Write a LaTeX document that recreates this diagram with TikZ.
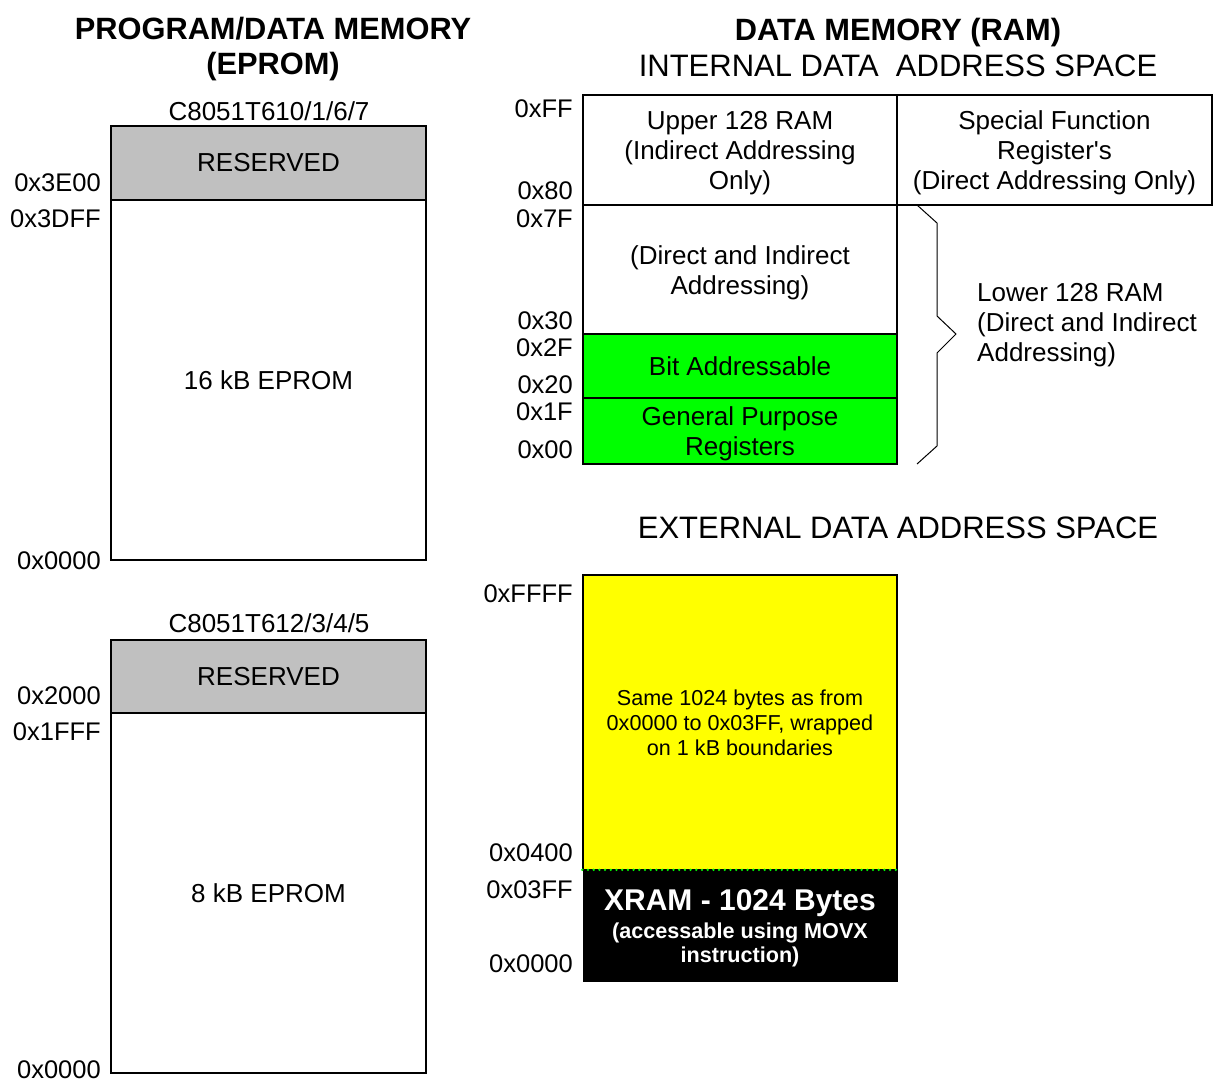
\documentclass[tikz,border=0pt]{standalone}
\usepackage{fontspec}
\setmainfont{Liberation Sans}
\definecolor{resgray}{HTML}{C0C0C0}
\definecolor{bitgreen}{HTML}{00FF00}
\definecolor{xyellow}{HTML}{FFFF00}
\begin{document}
\begin{tikzpicture}[x=1pt,y=-1pt,
  mem/.style={draw, line width=2pt, inner sep=0pt, align=center, font=\fontsize{26}{30}\selectfont},
  mtxt/.style={inner sep=0pt, align=center, font=\fontsize{26}{30}\selectfont, yshift=-3pt},
  addr/.style={font=\fontsize{25.5}{30}\selectfont, inner sep=0pt, anchor=east, text height=18.3pt, text depth=0pt},
  chip/.style={font=\fontsize{26}{30}\selectfont, inner sep=0pt, text height=18.6pt, text depth=0pt},
  head/.style={font=\bfseries\fontsize{30.8}{35}\selectfont, align=center, inner sep=0pt},
  sub/.style={font=\fontsize{31}{35}\selectfont, inner sep=0pt, text height=22.2pt, text depth=0pt},
  xtxt/.style={text=white, font=\bfseries\fontsize{21.6}{25}\selectfont, inner sep=0pt, text height=15.5pt, text depth=0pt}
]
\useasboundingbox (0,0) rectangle (1216,1082);

% ---------- headings ----------
\node[head] (h1) at (273,49.5) {PROGRAM/DATA MEMORY\\(EPROM)};
\node[head, text height=22pt, text depth=0pt] (h2) at (898,29) {DATA MEMORY (RAM)};
\node[sub] (h3) at (898,65) {INTERNAL DATA\ \ ADDRESS SPACE};
\node[sub] (h4) at (898,527) {EXTERNAL DATA ADDRESS SPACE};

% ---------- left: C8051T610/1/6/7 ----------
\node[chip] (c1) at (269,111) {C8051T610/1/6/7};
\node[mem, minimum width=315pt, minimum height=360pt] (ep1) at (268.5,380) {16 kB EPROM};
\node[mem, fill=resgray, minimum width=315pt, minimum height=74pt] (rs1) at (268.5,163) {RESERVED};
\node[addr] (a1) at (101,182) {0x3E00};
\node[addr] (a2) at (101,218) {0x3DFF};
\node[addr] (a3) at (101,560) {0x0000};

% ---------- left: C8051T612/3/4/5 ----------
\node[chip] (c2) at (269,623) {C8051T612/3/4/5};
\node[mem, minimum width=315pt, minimum height=360pt] (ep2) at (268.5,893) {8 kB EPROM};
\node[mem, fill=resgray, minimum width=315pt, minimum height=73pt] (rs2) at (268.5,676.5) {RESERVED};
\node[addr] (a4) at (101,695) {0x2000};
\node[addr] (a5) at (101,731) {0x1FFF};
\node[addr] (a6) at (101,1069) {0x0000};

% ---------- internal data space ----------
\node[mem, minimum width=314pt, minimum height=110pt] (up) at (740,150) {};
\node[mtxt] (upt) at (up.center) {Upper 128 RAM\\(Indirect Addressing\\Only)};
\node[mem, minimum width=315pt, minimum height=110pt] (sfr) at (1054.5,150) {};
\node[mtxt] (sfrt) at (sfr.center) {Special Function\\Register\textquotesingle s\\(Direct Addressing Only)};
\node[mem, minimum width=314pt, minimum height=129pt] (di) at (740,269.5) {};
\node[mtxt] (dit) at (di.center) {(Direct and Indirect\\Addressing)};
\node[mem, fill=bitgreen, minimum width=314pt, minimum height=64pt] (bit) at (740,366)
  {Bit Addressable};
\node[mem, fill=bitgreen, minimum width=314pt, minimum height=66pt] (gp) at (740,431) {};
\node[mtxt] (gpt) at (gp.center) {General Purpose\\Registers};

\node[addr] (b1) at (573,108) {0xFF};
\node[addr] (b2) at (573,190) {0x80};
\node[addr] (b3) at (573,218) {0x7F};
\node[addr] (b4) at (573,320) {0x30};
\node[addr] (b5) at (573,347) {0x2F};
\node[addr] (b6) at (573,384) {0x20};
\node[addr] (b7) at (573,411) {0x1F};
\node[addr] (b8) at (573,449) {0x00};

% brace
\draw[line width=1pt, line join=miter] (917,205) -- (937,223) -- (937,316) -- (956,334)
  -- (937,353) -- (937,446) -- (917,464);
\node[font=\fontsize{26}{30}\selectfont, align=left, inner sep=0pt, anchor=west] (low) at (977,325)
  {Lower 128 RAM\\(Direct and Indirect\\Addressing)};

% ---------- external data space ----------
\node[draw, line width=1.5pt, fill=xyellow, minimum width=314pt, minimum height=295pt, inner sep=0pt,
      align=center, font=\fontsize{21.6}{25}\selectfont] (ext) at (740,722.5)
  {Same 1024 bytes as from\\0x0000 to 0x03FF, wrapped\\on 1 kB boundaries};
\node[fill=black, minimum width=315pt, minimum height=112pt, inner sep=0pt] (xram) at (740,926) {};
\draw[bitgreen, line width=2.6pt, line cap=round, dash pattern=on 0pt off 5.7pt]
  (xram.north west) -- (xram.north east);
\node[xtxt, font=\bfseries\fontsize{30}{35}\selectfont, text height=21.5pt] (x1) at (740,900) {XRAM - 1024 Bytes};
\node[xtxt] (x2) at (740,931) {(accessable using MOVX};
\node[xtxt] (x3) at (740,955) {instruction)};

\node[addr] (e1) at (573,593) {0xFFFF};
\node[addr] (e2) at (573,852) {0x0400};
\node[addr] (e3) at (573,889) {0x03FF};
\node[addr] (e4) at (573,963) {0x0000};
\end{tikzpicture}
\end{document}
